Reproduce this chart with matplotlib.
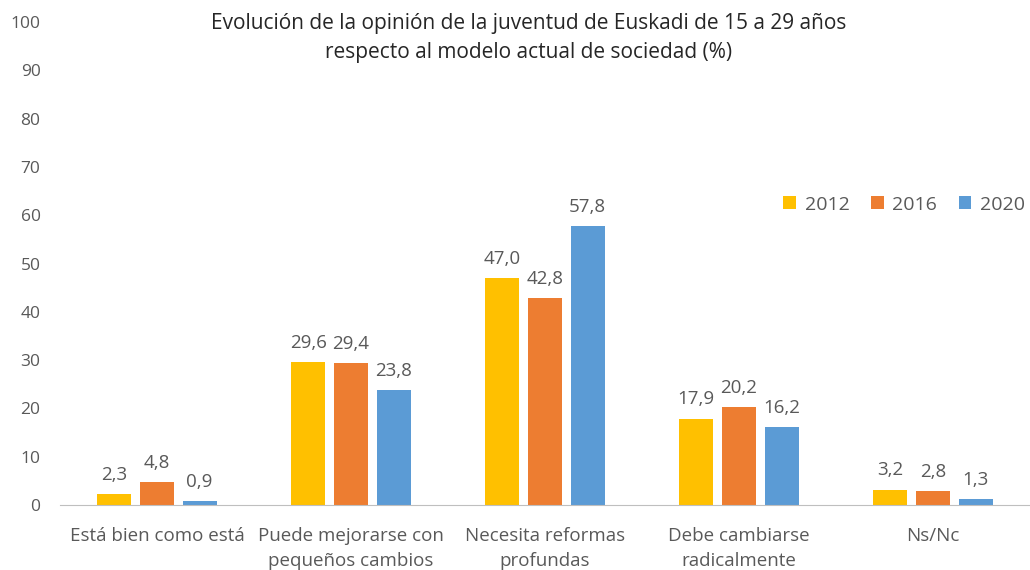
import matplotlib.pyplot as plt
import numpy as np

plt.rcParams['font.family'] = ['Open Sans', 'DejaVu Sans']

# data
categories = ['Está bien como está', 'Puede mejorarse con\npequeños cambios',
              'Necesita reformas\nprofundas', 'Debe cambiarse\nradicalmente', 'Ns/Nc']
years = ['2012', '2016', '2020']
v2012 = [2.3, 29.6, 47.0, 17.9, 3.2]
v2016 = [4.8, 29.4, 42.8, 20.2, 2.8]
v2020 = [0.9, 23.8, 57.8, 16.2, 1.3]
colors = ['#FFC000', '#ED7D31', '#5B9BD5']
grey = '#595959'

fig = plt.figure(figsize=(10.3, 5.7), dpi=100)
ax = fig.add_axes([60/1030, 1 - 505/570, 970/1030, 483/570])

x = np.arange(len(categories))
width = 0.175
offsets = [-0.22, 0, 0.22]
for vals, year, color, off in zip([v2012, v2016, v2020], years, colors, offsets):
    bars = ax.bar(x + off, vals, width, color=color, label=year, zorder=2)
    for b, v in zip(bars, vals):
        ax.text(b.get_x() + b.get_width() / 2, v + 2.1, f'{v:.1f}'.replace('.', ','),
                ha='center', va='bottom', fontsize=13.5, color=grey)

ax.set_xlim(-0.5, 4.5)
ax.set_ylim(0, 100)
ax.set_yticks(range(0, 101, 10))
ax.set_xticks(x)
ax.set_xticklabels(categories, fontsize=13.5, color=grey, linespacing=1.5)
ax.tick_params(axis='y', labelsize=12.5, labelcolor=grey, length=0, pad=14)
ax.tick_params(axis='x', length=0, pad=16)
for s in ['top', 'right', 'left']:
    ax.spines[s].set_visible(False)
ax.spines['bottom'].set_color('#BFBFBF')

fig.text(0.513, 0.978, 'Evolución de la opinión de la juventud de Euskadi de 15 a 29 años\nrespecto al modelo actual de sociedad (%)',
         ha='center', va='top', fontsize=15, color='#262626', linespacing=1.55)

ax.legend(loc='center right', bbox_to_anchor=(1.013, 0.622), ncol=3, frameon=False,
          fontsize=14, handlelength=0.65, handleheight=0.65, columnspacing=1.1,
          handletextpad=0.45, labelcolor=grey)

fig.savefig('out.png', dpi=100)
